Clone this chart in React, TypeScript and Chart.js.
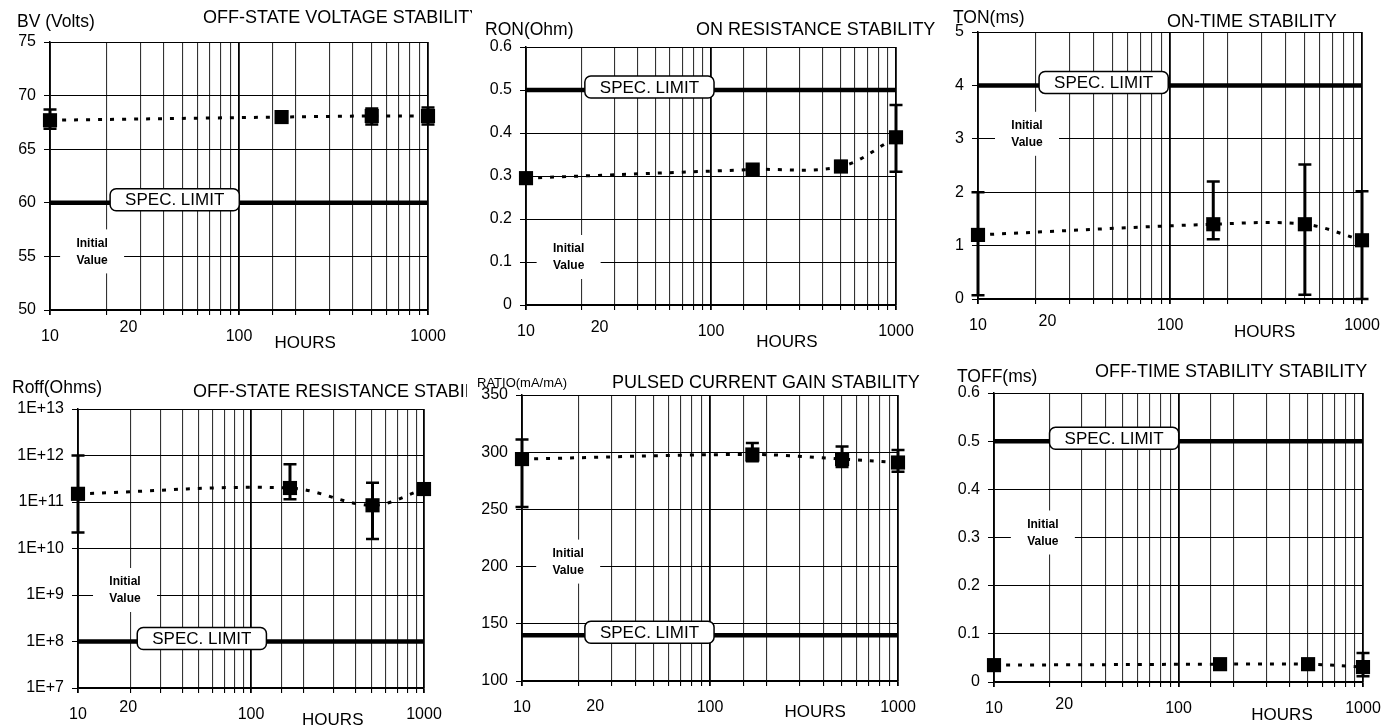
import React, { useEffect, useRef } from 'react';
import { Chart, registerables } from 'chart.js';

Chart.register(...registerables);

const FONT = '"Liberation Sans", Arial, Helvetica, sans-serif';

// Test durations (hours)
const hours = [10, 168, 504, 1000];
const xLabelled = [10, 100, 1000];

// Off-state voltage BV (Volts)
const bvValues = [67.7, 68.0, 68.1, 68.1];
const bvLow = [66.9, 67.6, 67.3, 67.3];
const bvHigh = [68.7, 68.5, 68.8, 68.9];
const bvSpec = 60;
const bvTicks = [50, 55, 60, 65, 70, 75];

// On resistance RON (Ohm)
const ronValues = [0.295, 0.315, 0.322, 0.39];
const ronLow = [0.29, 0.305, 0.31, 0.31];
const ronHigh = [0.3, 0.325, 0.335, 0.465];
const ronSpec = 0.5;
const ronTicks = [0, 0.1, 0.2, 0.3, 0.4, 0.5, 0.6];

// On time TON (ms)
const tonValues = [1.2, 1.4, 1.4, 1.1];
const tonLow = [0.07, 1.12, 0.08, 0];
const tonHigh = [2.0, 2.2, 2.52, 2.02];
const tonSpec = 4;
const tonTicks = [0, 1, 2, 3, 4, 5];

// Off-state resistance Roff (Ohms)
const roffValues = [1.5e11, 2.0e11, 8.5e10, 1.9e11];
const roffLow = [2.2e10, 1.15e11, 1.6e10, 1.5e11];
const roffHigh = [1.0e12, 6.5e11, 2.6e11, 2.3e11];
const roffSpec = 1e8;
const roffTicks = [1e7, 1e8, 1e9, 1e10, 1e11, 1e12, 1e13];

// Pulsed current gain RATIO (mA/mA)
const ratioValues = [294, 298, 294, 291];
const ratioLow = [252, 292, 287, 283];
const ratioHigh = [311, 308, 305, 302];
const ratioSpec = 140;
const ratioTicks = [100, 150, 200, 250, 300, 350];

// Off time TOFF (ms)
const toffValues = [0.035, 0.037, 0.037, 0.031];
const toffLow = [0.03, 0.032, 0.032, 0.012];
const toffHigh = [0.04, 0.042, 0.042, 0.06];
const toffSpec = 0.5;
const toffTicks = [0, 0.1, 0.2, 0.3, 0.4, 0.5, 0.6];

type Panel = {
  id: string;
  yLabel: string;
  yLabelSize: number;
  title: string;
  values: number[];
  low: number[];
  high: number[];
  spec: number;
  ticks: number[];
  log: boolean;
  initialY: number;
  canvas: { x: number; y: number; w: number; h: number };
  plot: { l: number; t: number; r: number; b: number };
  yLabelPos: [number, number];
  titlePos: [number, number];
  twentyAt: number;
  twentyDy: number;
  hoursAt: number;
  hoursDy: number;
  specAt: number;
  initialAt: number;
};

const panels: Panel[] = [
  {
    id: 'bv', yLabel: 'BV (Volts)', yLabelSize: 17.5, title: 'OFF-STATE VOLTAGE STABILITY',
    values: bvValues, low: bvLow, high: bvHigh, spec: bvSpec, ticks: bvTicks, log: false, initialY: 55,
    canvas: { x: 0, y: 0, w: 472, h: 360 }, plot: { l: 50, t: 42, r: 428, b: 310 },
    yLabelPos: [17, 22], titlePos: [203, 18], twentyAt: 26, twentyDy: 18, hoursAt: 224, hoursDy: 33,
    specAt: 20.8, initialAt: 16.7,
  },
  {
    id: 'ron', yLabel: 'RON(Ohm)', yLabelSize: 17.5, title: 'ON RESISTANCE STABILITY',
    values: ronValues, low: ronLow, high: ronHigh, spec: ronSpec, ticks: ronTicks, log: false, initialY: 0.1,
    canvas: { x: 472, y: 0, w: 473, h: 360 }, plot: { l: 526, t: 47, r: 896, b: 305 },
    yLabelPos: [485, 30], titlePos: [696, 30], twentyAt: 25, twentyDy: 23, hoursAt: 257, hoursDy: 37,
    specAt: 20.8, initialAt: 17,
  },
  {
    id: 'ton', yLabel: 'TON(ms)', yLabelSize: 17.5, title: 'ON-TIME STABILITY',
    values: tonValues, low: tonLow, high: tonHigh, spec: tonSpec, ticks: tonTicks, log: false, initialY: 3,
    canvas: { x: 945, y: 0, w: 440, h: 360 }, plot: { l: 978, t: 32, r: 1362, b: 299 },
    yLabelPos: [953, 18], titlePos: [1167, 22], twentyAt: 23, twentyDy: 23, hoursAt: 311, hoursDy: 33,
    specAt: 20.8, initialAt: 18,
  },
  {
    id: 'roff', yLabel: 'Roff(Ohms)', yLabelSize: 17.5, title: 'OFF-STATE RESISTANCE STABILITY',
    values: roffValues, low: roffLow, high: roffHigh, spec: roffSpec, ticks: roffTicks, log: true, initialY: 1e9,
    canvas: { x: 0, y: 360, w: 467, h: 365 }, plot: { l: 78, t: 409, r: 424, b: 688 },
    yLabelPos: [12, 388], titlePos: [193, 392], twentyAt: 19.5, twentyDy: 20, hoursAt: 297, hoursDy: 32,
    specAt: 22, initialAt: 18.7,
  },
  {
    id: 'ratio', yLabel: 'RATIO(mA/mA)', yLabelSize: 13, title: 'PULSED CURRENT GAIN STABILITY',
    values: ratioValues, low: ratioLow, high: ratioHigh, spec: ratioSpec, ticks: ratioTicks, log: false, initialY: 200,
    canvas: { x: 467, y: 360, w: 463, h: 365 }, plot: { l: 522, t: 395, r: 898, b: 681 },
    yLabelPos: [477, 383], titlePos: [612, 383], twentyAt: 24.5, twentyDy: 26, hoursAt: 363, hoursDy: 31,
    specAt: 21.6, initialAt: 17.6,
  },
  {
    id: 'toff', yLabel: 'TOFF(ms)', yLabelSize: 17.5, title: 'OFF-TIME STABILITY STABILITY',
    values: toffValues, low: toffLow, high: toffHigh, spec: toffSpec, ticks: toffTicks, log: false, initialY: 0.3,
    canvas: { x: 930, y: 360, w: 455, h: 365 }, plot: { l: 994, t: 393, r: 1363, b: 682 },
    yLabelPos: [957, 377], titlePos: [1095, 372], twentyAt: 24, twentyDy: 23, hoursAt: 364, hoursDy: 33,
    specAt: 20, initialAt: 18.4,
  },
];

function makeOverlay(p: Panel) {
  const ox = p.canvas.x;
  const oy = p.canvas.y;
  return {
    id: 'overlay_' + p.id,
    beforeDatasetsDraw(chart: any) {
      const { ctx } = chart;
      const x = chart.scales.x;
      const y = chart.scales.y;
      const cx = x.getPixelForValue(p.initialAt);
      const cy = y.getPixelForValue(p.initialY) - 5;
      ctx.save();
      ctx.fillStyle = '#fff';
      ctx.fillRect(cx - 32, cy - 22, 64, 44);
      ctx.fillStyle = '#000';
      ctx.font = `bold 12px ${FONT}`;
      ctx.textAlign = 'center';
      ctx.textBaseline = 'middle';
      ctx.fillText('Initial', cx, cy - 8);
      ctx.fillText('Value', cx, cy + 9);
      ctx.restore();
    },
    afterDatasetsDraw(chart: any) {
      const { ctx } = chart;
      const x = chart.scales.x;
      const y = chart.scales.y;
      ctx.save();
      ctx.strokeStyle = '#000';
      ctx.lineCap = 'butt';
      hours.forEach((h, i) => {
        const px = x.getPixelForValue(h);
        const yh = y.getPixelForValue(p.high[i]);
        const yl = y.getPixelForValue(p.low[i]);
        ctx.lineWidth = 3;
        ctx.beginPath();
        ctx.moveTo(px, yh);
        ctx.lineTo(px, yl);
        ctx.stroke();
        ctx.lineWidth = 2.5;
        ctx.beginPath();
        ctx.moveTo(px - 6.5, yh);
        ctx.lineTo(px + 6.5, yh);
        ctx.moveTo(px - 6.5, yl);
        ctx.lineTo(px + 6.5, yl);
        ctx.stroke();
      });
      // spec limit label box
      const sy = y.getPixelForValue(p.spec) - 3;
      ctx.font = `17px ${FONT}`;
      const tw = ctx.measureText('SPEC. LIMIT').width;
      const bx = x.getPixelForValue(p.specAt);
      const bw = tw + 30;
      const bh = 22;
      ctx.beginPath();
      ctx.roundRect(bx, sy - bh / 2, bw, bh, 6);
      ctx.fillStyle = '#fff';
      ctx.fill();
      ctx.lineWidth = 1.5;
      ctx.stroke();
      ctx.fillStyle = '#000';
      ctx.textAlign = 'center';
      ctx.textBaseline = 'middle';
      ctx.fillText('SPEC. LIMIT', bx + bw / 2, sy + 1);
      ctx.restore();
    },
    afterDraw(chart: any) {
      const { ctx } = chart;
      const x = chart.scales.x;
      const area = chart.chartArea;
      ctx.save();
      ctx.fillStyle = '#000';
      ctx.textBaseline = 'middle';
      ctx.textAlign = 'left';
      ctx.font = `${p.yLabelSize}px ${FONT}`;
      ctx.fillText(p.yLabel, p.yLabelPos[0] - ox, p.yLabelPos[1] - oy);
      ctx.font = `18px ${FONT}`;
      ctx.fillText(p.title, p.titlePos[0] - ox, p.titlePos[1] - oy);
      ctx.textAlign = 'center';
      ctx.font = `16px ${FONT}`;
      ctx.fillText('20', x.getPixelForValue(p.twentyAt), area.bottom + p.twentyDy);
      ctx.font = `17px ${FONT}`;
      ctx.fillText('HOURS', x.getPixelForValue(p.hoursAt), area.bottom + p.hoursDy);
      ctx.restore();
    },
  };
}

function PanelChart({ p }: { p: Panel }) {
  const ref = useRef<HTMLCanvasElement>(null);
  useEffect(() => {
    const c = ref.current;
    if (!c) return;
    const ox = p.canvas.x;
    const oy = p.canvas.y;
    const padTop = p.plot.t - oy;
    const padRight = ox + p.canvas.w - p.plot.r;
    const yW = p.plot.l - ox;
    const xH = oy + p.canvas.h - p.plot.b;
    const isMajor = (v: number) => xLabelled.some((m) => Math.abs(m - v) < 1e-6);
    const chart = new Chart(c, {
      type: 'line',
      data: {
        datasets: [
          {
            data: hours.map((h, i) => ({ x: h, y: p.values[i] })),
            borderColor: '#000',
            borderWidth: 3,
            borderDash: [4, 8],
            tension: 0.35,
            pointStyle: 'rect',
            pointRadius: 10,
            pointBackgroundColor: '#000',
            pointBorderWidth: 0,
            clip: false,
          } as any,
          {
            data: [
              { x: 10, y: p.spec },
              { x: 1000, y: p.spec },
            ],
            borderColor: '#000',
            borderWidth: 4.5,
            pointRadius: 0,
            clip: false,
          } as any,
        ],
      },
      options: {
        responsive: false,
        animation: false,
        events: [],
        layout: { padding: { top: padTop, right: padRight, left: 0, bottom: 0 } },
        plugins: { legend: { display: false }, tooltip: { enabled: false }, title: { display: false } },
        scales: {
          x: {
            type: 'logarithmic',
            min: 10,
            max: 1000,
            position: 'bottom',
            afterFit: (s: any) => {
              s.height = xH;
              s.paddingLeft = 0;
              s.paddingRight = 0;
            },
            border: { color: '#000', width: 1.5 },
            grid: {
              color: (ctx: any) => (ctx.tick && isMajor(ctx.tick.value) ? '#000' : '#333'),
              lineWidth: (ctx: any) => (ctx.tick && isMajor(ctx.tick.value) ? 1.8 : 1.1),
              tickLength: 5,
              tickColor: '#000',
            },
            ticks: {
              autoSkip: false,
              maxRotation: 0,
              minRotation: 0,
              padding: 12,
              color: '#000',
              font: { family: FONT, size: 16 },
              callback: (v: any) => (isMajor(Number(v)) ? String(Math.round(Number(v))) : ''),
            },
          },
          y: {
            type: p.log ? 'logarithmic' : 'linear',
            min: p.ticks[0],
            max: p.ticks[p.ticks.length - 1],
            afterBuildTicks: (s: any) => {
              s.ticks = p.ticks.map((v) => ({ value: v }));
            },
            afterFit: (s: any) => {
              s.width = yW;
              s.paddingTop = 0;
              s.paddingBottom = 0;
            },
            border: { color: '#000', width: 1.5 },
            grid: { color: '#000', lineWidth: 1, tickLength: 6, tickColor: '#000' },
            ticks: {
              padding: 8,
              color: '#000',
              font: { family: FONT, size: 16 },
              callback: (v: any) =>
                p.log ? '1E+' + Math.round(Math.log10(Number(v))) : String(v),
            },
          },
        } as any,
      },
      plugins: [makeOverlay(p)],
    } as any);
    return () => chart.destroy();
  }, [p]);
  return (
    <canvas
      ref={ref}
      width={p.canvas.w}
      height={p.canvas.h}
      style={{
        position: 'absolute',
        left: p.canvas.x,
        top: p.canvas.y,
        width: p.canvas.w,
        height: p.canvas.h,
        display: 'block',
      }}
    />
  );
}

export default function App() {
  return (
    <div
      style={{
        position: 'fixed',
        left: 0,
        top: 0,
        width: 1385,
        height: 725,
        background: '#fff',
        overflow: 'hidden',
      }}
    >
      {panels.map((p) => (
        <PanelChart key={p.id} p={p} />
      ))}
    </div>
  );
}
